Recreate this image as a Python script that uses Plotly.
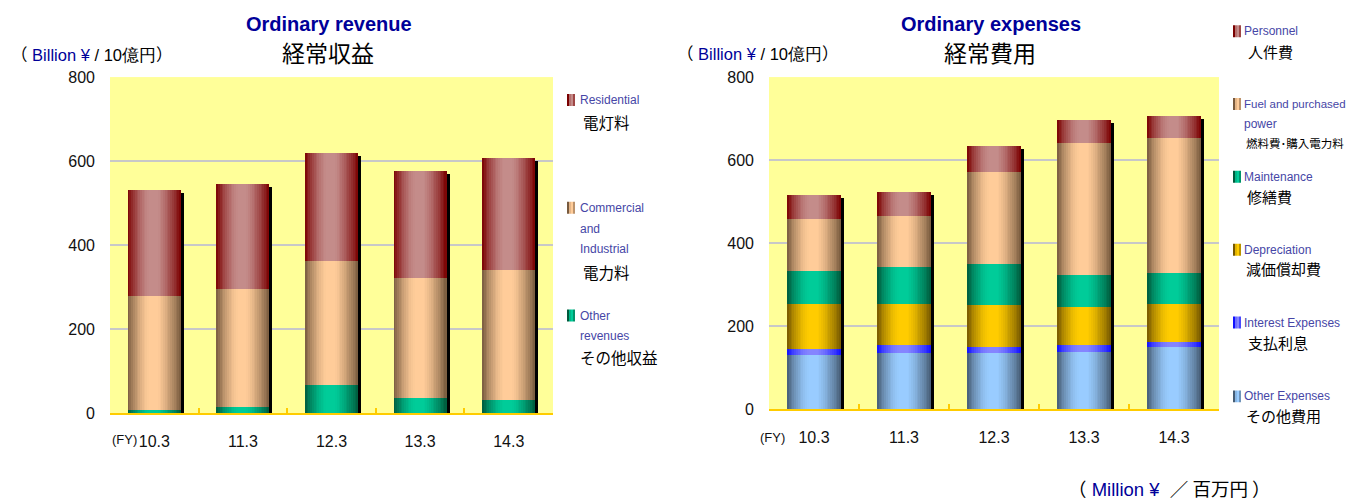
import plotly.graph_objects as go

# ---------------- data ----------------
years = ["10.3", "11.3", "12.3", "13.3", "14.3"]

rev_other = [7, 15, 67, 36, 32]
rev_commercial = [271, 280, 295, 287, 309]
rev_residential = [252, 251, 258, 254, 267]

exp_other = [130, 136, 136, 139, 151]
exp_interest = [14, 18, 15, 15, 12]
exp_depreciation = [110, 100, 99, 93, 91]
exp_maintenance = [80, 89, 101, 77, 73]
exp_fuel = [125, 123, 221, 316, 325]
exp_personnel = [58, 58, 63, 57, 55]

y_ticks = [0, 200, 400, 600, 800]

# ---------------- styles ----------------
W, H = 1359, 499
COL = {
    "residential": ("#7A0000", "#C48C8A"),
    "commercial": ("#785A3E", "#FFCC99"),
    "green": ("#005A3C", "#00CC99"),
    "depr": ("#765800", "#FFCC00"),
    "interest": ("#1010FF", "#8585FF"),
    "otherexp": ("#465C74", "#99CCFF"),
}
NARROW = "Liberation Sans Narrow, Arial Narrow, Liberation Sans, Arial"
SANS = "Liberation Sans, Arial"
JP = "Noto Sans CJK JP"
BLUE = "#000099"
LEGBLUE = "#4646A6"


def hex2rgb(h):
    h = h.lstrip("#")
    return [int(h[i:i + 2], 16) for i in (0, 2, 4)]


def mix(c1, c2, f):
    a, b = hex2rgb(c1), hex2rgb(c2)
    return "rgb(%d,%d,%d)" % tuple(round(a[k] + (b[k] - a[k]) * f) for k in range(3))


def profile(t):
    # dark edges, light centre (slightly left of middle)
    if t < 0.42:
        u = t / 0.42
        return 1 - (1 - u) ** 1.6
    if t < 0.56:
        return 1.0
    u = (t - 0.56) / 0.44
    return 1 - u ** 1.3


fig = go.Figure()


def add_stack(series, xa, ya, dx, dy, bw=0.6, n=30):
    totals = [sum(v) for v in zip(*[s[0] for s in series])]
    # drop shadow
    fig.add_trace(go.Bar(x=years, y=totals, base=[-dy] * len(years),
                         offset=-bw / 2 + dx, width=bw,
                         marker=dict(color="black", line=dict(width=0)),
                         cliponaxis=False, xaxis=xa, yaxis=ya,
                         showlegend=False, hoverinfo="skip"))
    bases = []
    cum = [0] * len(years)
    for vals, _ in series:
        bases.append(list(cum))
        cum = [c + v for c, v in zip(cum, vals)]
    w = bw / n
    for i in range(n):
        t = (i + 0.5) / n
        off = -bw / 2 + i * w
        width = min(w * 2.2, bw / 2 - off)
        for (vals, ckey), base in zip(series, bases):
            dark, light = COL[ckey]
            fig.add_trace(go.Bar(x=years, y=vals, base=base, offset=off, width=width,
                                 marker=dict(color=mix(dark, light, profile(t)),
                                             line=dict(width=0)),
                                 xaxis=xa, yaxis=ya, showlegend=False,
                                 hoverinfo="skip"))


add_stack([(rev_other, "green"), (rev_commercial, "commercial"),
           (rev_residential, "residential")], "x", "y", 0.034, 7.1)
add_stack([(exp_other, "otherexp"), (exp_interest, "interest"),
           (exp_depreciation, "depr"), (exp_maintenance, "green"),
           (exp_fuel, "commercial"), (exp_personnel, "residential")],
          "x2", "y2", 0.033, 7.2)

# page placement correction (observed render offset/scale)
XOFF, YOFF, YSC = 8.0, 15.8, 0.968


def px_x(x):
    return (x - XOFF) / W


def px_y(y):
    return 1 - ((y - YOFF) / YSC) / H


xaxis_common = dict(type="category", showgrid=False, showline=True,
                    linecolor="#FFCC00", linewidth=2, ticks="inside",
                    tickson="boundaries", ticklen=5, tickcolor="#FFCC00",
                    tickwidth=1.5, ticklabelstandoff=12,
                    tickfont=dict(family=NARROW, size=16, color="#111"),
                    fixedrange=True)
yaxis_common = dict(range=[0, 800], tickvals=y_ticks, showgrid=True,
                    gridcolor="#C8C8C8", gridwidth=2, zeroline=False,
                    showline=False, ticks="", ticklabelstandoff=14,
                    tickfont=dict(family=NARROW, size=16, color="#111"),
                    fixedrange=True)

fig.update_layout(
    width=W, height=H,
    margin=dict(l=0, r=0, t=0, b=0),
    paper_bgcolor="white", plot_bgcolor="#FFFF99",
    barmode="overlay", bargap=0,
    xaxis=dict(domain=[px_x(110), px_x(553)], anchor="y", **xaxis_common),
    yaxis=dict(domain=[px_y(414), px_y(77)], anchor="x", **yaxis_common),
    xaxis2=dict(domain=[px_x(769), px_x(1219)], anchor="y2", **xaxis_common),
    yaxis2=dict(domain=[px_y(410), px_y(77)], anchor="x2", **yaxis_common),
    showlegend=False,
)

ann = []


def text(x, y, s, size, color="black", family=JP, anchor="left"):
    ann.append(dict(x=px_x(x), y=px_y(y), xref="paper", yref="paper",
                    text=s, showarrow=False, xanchor=anchor, yanchor="middle",
                    font=dict(family=family, size=size, color=color)))


# titles
text(329, 24, "<b>Ordinary revenue</b>", 20, BLUE, SANS, "center")
text(328, 52, "経常収益", 23, "black", JP, "center")
text(991, 24, "<b>Ordinary expenses</b>", 20, BLUE, SANS, "center")
text(990, 52, "経常費用", 23, "black", JP, "center")
unit = ("<span style='font-family:Noto Sans CJK JP'>（</span> "
        "<span style='color:%s'>Billion ¥</span> / 10億円<span style='font-family:Noto Sans CJK JP'>）</span>" % BLUE)
text(9, 54, unit, 16.5, "black", SANS)
text(675, 53, unit, 16.5, "black", SANS)
text(1066, 489, "<span style='font-family:Noto Sans CJK JP'>（</span>&nbsp;<span style='color:%s'>Million ¥</span>&nbsp; "
     "<span style='font-family:Noto Sans CJK JP'>／&nbsp;百万円&nbsp;）</span>" % BLUE, 18.5, "black", SANS)

# (FY)
text(110, 440, "(FY)", 13, "#111", NARROW)
text(758, 438, "(FY)", 13, "#111", NARROW)

shapes = []


def swatch(x, y, key):
    dark, light = COL[key]
    cols = [dark, mix(dark, light, 0.8), light, mix(dark, light, 0.5)]
    for i, c in enumerate(cols):
        shapes.append(dict(type="rect", xref="paper", yref="paper",
                           x0=px_x(x + i * 2), x1=px_x(x + i * 2 + 2),
                           y0=px_y(y + 6), y1=px_y(y - 6),
                           line=dict(width=0), fillcolor=c))


# left legend
swatch(567, 100, "residential")
text(578, 100, "Residential", 12, LEGBLUE, NARROW)
text(581, 122, "電灯料", 15.5)
swatch(567, 208, "commercial")
text(578, 208, "Commercial", 12, LEGBLUE, NARROW)
text(578, 229, "and", 12, LEGBLUE, NARROW)
text(578, 249, "Industrial", 12, LEGBLUE, NARROW)
text(581, 272, "電力料", 15.5)
swatch(567, 316, "green")
text(578, 316, "Other", 12, LEGBLUE, NARROW)
text(578, 336, "revenues", 12, LEGBLUE, NARROW)
text(578, 358, "その他収益", 15.5)

# right legend
swatch(1233, 31, "residential")
text(1242, 31, "Personnel", 12, LEGBLUE, NARROW)
text(1246, 51, "人件費", 15)
swatch(1233, 104, "commercial")
text(1242, 104, "Fuel and purchased", 11.5, LEGBLUE, NARROW)
text(1242, 124, "power", 12, LEGBLUE, NARROW)
text(1244, 143, "燃料費･購入電力料", 11.5)
swatch(1233, 177, "green")
text(1242, 177, "Maintenance", 12, LEGBLUE, NARROW)
text(1245, 197, "修繕費", 15)
swatch(1233, 250, "depr")
text(1242, 250, "Depreciation", 12, LEGBLUE, NARROW)
text(1244, 269, "減価償却費", 15)
swatch(1233, 323, "interest")
text(1242, 323, "Interest Expenses", 12, LEGBLUE, NARROW)
text(1246, 343, "支払利息", 15)
swatch(1233, 397, "otherexp")
text(1242, 397, "Other Expenses", 12, LEGBLUE, NARROW)
text(1244, 416, "その他費用", 15)

fig.update_layout(annotations=ann, shapes=shapes)
fig.write_html("out.html")
